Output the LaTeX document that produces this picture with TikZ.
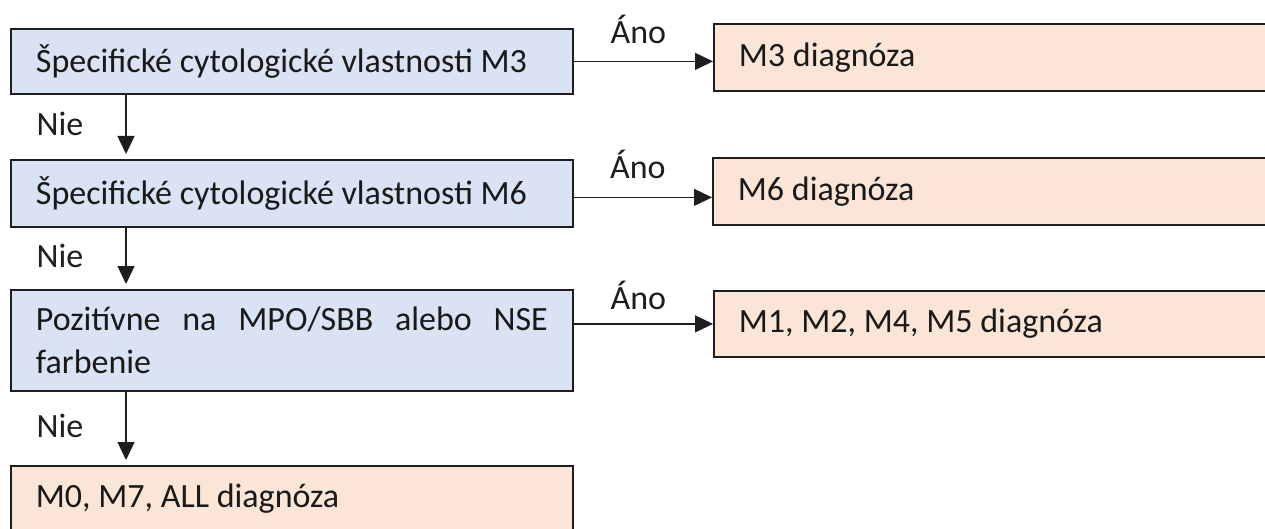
\documentclass[tikz,border=0pt]{standalone}
\usepackage{fontspec}
\setmainfont{Carlito}
\usepackage{xcolor}
\usepackage{tikz}
\usetikzlibrary{arrows.meta,positioning}
\definecolor{qfill}{HTML}{DAE3F3}
\definecolor{dfill}{HTML}{FBE5D6}
\definecolor{edge}{HTML}{1E1E1E}
\tolerance=10000
\hyphenpenalty=10000
\frenchspacing
\tikzset{
  qbox/.style={draw=edge,fill=qfill,line width=1.8pt,anchor=north west,align=justify,text width=512pt,inner xsep=25pt,inner ysep=0pt,minimum width=562pt},
  dbox/.style={draw=edge,fill=dfill,line width=1.8pt,anchor=north west,align=flush left,text width=550pt,inner xsep=25pt,inner ysep=0pt},
  darr/.style={-{Triangle[length=18pt,width=17pt]},line width=1.3pt,draw=edge},
  lbl/.style={inner sep=0pt,text=edge}
}
\begin{document}
\begin{tikzpicture}[x=1pt,y=-1pt,font=\fontsize{34}{43}\selectfont,text=black!90]
  \path[use as bounding box,clip] (0,0) rectangle (1265,529);
  \node[qbox,minimum height=65pt] (q1) at (10,28) {Špecifické cytologické vlastnosti M3};
  \node[qbox,minimum height=67pt] (q2) at (10,159) {Špecifické cytologické vlastnosti M6};
  \node[qbox,minimum height=101pt] (q3) at (10,289) {Pozitívne na MPO/SBB alebo NSE farbenie};
  \node[dbox,text width=512pt,minimum height=66pt] (d0) at (10,465) {M0, M7, ALL diagnóza};
  \node[dbox,minimum height=67pt] (d1) at (713,23) {M3 diagnóza};
  \node[dbox,minimum height=67pt] (d2) at (712,157) {M6 diagnóza};
  \node[dbox,minimum height=66pt] (d3) at (713,290) {M1, M2, M4, M5 diagnóza};
  % ano
  \draw[darr] (q1.east) -- (q1.east -| d1.west) node[lbl,midway,above=17pt,xshift=-5pt] {Áno};
  \draw[darr] ([yshift=-4pt]q2.east) -- ([yshift=-4pt]q2.east -| d2.west) node[lbl,midway,above=18pt,xshift=-5pt] {Áno};
  \draw[darr] (d3.west -| q3.east) -- (d3.west) node[lbl,midway,above=14pt,xshift=-5pt] {Áno};
  % nie
  \draw[darr] ([xshift=116pt]q1.south west) -- ([xshift=116pt,yshift=5pt]q2.north west) node[lbl,midway,left=42pt] {Nie};
  \draw[darr] ([xshift=116pt]q2.south west) -- ([xshift=116pt,yshift=5pt]q3.north west) node[lbl,midway,left=42pt] {Nie};
  \draw[darr] ([xshift=116pt]q3.south west) -- ([xshift=116pt,yshift=5pt]d0.north west) node[lbl,midway,left=42pt] {Nie};
\end{tikzpicture}
\end{document}
